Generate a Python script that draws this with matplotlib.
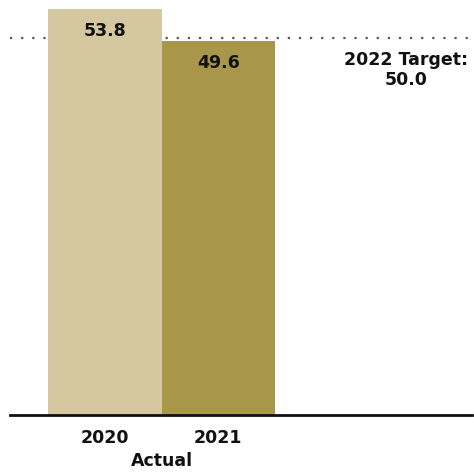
import matplotlib.pyplot as plt

years = ["2020", "2021"]
values = [53.8, 49.6]
colors = ["#D5C8A0", "#A8974B"]
target = 50.0
target_label = "2022 Target:\n50.0"
group_label = "Actual"

plt.rcParams["font.family"] = ["DejaVu Sans"]

fig = plt.figure(figsize=(4.74, 4.72), dpi=100)
ax = fig.add_axes([10 / 474, (472 - 415) / 472, 462 / 474, 415 / 472])

x = list(range(len(years)))
ax.bar(x, values, width=1.0, color=colors, zorder=2)

# dotted target line, behind the bars
ax.axhline(target, color="#555555", linestyle=(0, (1, 4)), linewidth=1.6, zorder=1)

for xi, v in zip(x, values):
    ax.text(xi, v - 2.9, f"{v:.1f}", ha="center", va="center",
            fontsize=12.5, fontweight="bold", color="#111111", zorder=3)

ax.text(3.2, target - 4.3, target_label, ha="right", va="center",
        fontsize=12.5, fontweight="bold", color="#111111", linespacing=1.1,
        multialignment="center")

ax.set_xlim(-0.835, 3.236)
ax.set_ylim(0, 55.0)

ax.set_xticks(x)
ax.set_xticklabels(years, fontsize=12.5, fontweight="bold", color="#111111")
ax.tick_params(axis="x", length=0, pad=10)
ax.set_yticks([])

ax.text(0.5, -0.11, group_label, transform=ax.get_xaxis_transform(),
        ha="center", va="center", fontsize=12.5, fontweight="bold", color="#111111")

for side in ["top", "right", "left"]:
    ax.spines[side].set_visible(False)
ax.spines["bottom"].set_linewidth(2)
ax.spines["bottom"].set_color("#111111")

fig.savefig("out.png", dpi=100)
